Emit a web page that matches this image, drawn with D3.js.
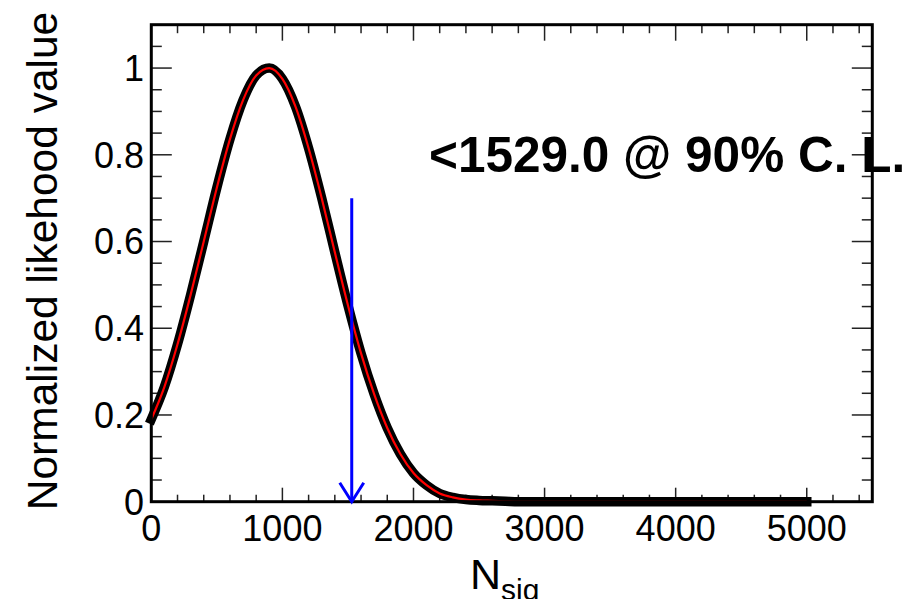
<!DOCTYPE html>
<html>
<head>
<meta charset="utf-8">
<script src="https://cdn.jsdelivr.net/npm/d3@7"></script>
<style>
  body { margin: 0; background: #fff; }
  text { font-family: "Liberation Sans", Arial, Helvetica, sans-serif; }
</style>
</head>
<body>
<div id="chart"></div>
<script>
// likelihood scan
const nsig = [0, 100, 200, 300, 400, 500, 600, 700, 800, 900, 1000, 1100, 1200, 1300, 1400,
    1500, 1600, 1700, 1800, 1900, 2000, 2100, 2200, 2300, 2400, 2500, 2600, 2700, 2800,
    3000, 3500, 4000, 4500, 5000];
const likelihood = [0.190, 0.265, 0.363, 0.477, 0.600, 0.724, 0.836, 0.926, 0.983, 1.000,
    0.975, 0.911, 0.815, 0.700, 0.575, 0.453, 0.342, 0.248, 0.170, 0.110, 0.066, 0.038,
    0.019, 0.010, 0.005, 0.003, 0.002, 0.001, 0, 0, 0, 0, 0, 0];
const xTicks = [0, 1000, 2000, 3000, 4000, 5000];
const yTicks = [0, 0.2, 0.4, 0.6, 0.8, 1];
const limit = 1529.0;
const arrowTop = 0.7;

const width = 916, height = 599;
const frameL = 151.3, frameR = 872.3, frameT = 24.7, frameB = 501.7;

const svg = d3.select("#chart").append("svg")
    .attr("width", width)
    .attr("height", height);

svg.append("rect")
    .attr("width", width)
    .attr("height", height)
    .attr("fill", "#fff");

const x = d3.scaleLinear().domain([0, 5500]).range([frameL, frameR]);
const y = d3.scaleLinear().domain([0, 1.1]).range([frameB, frameT]);

// ticks on all four sides, ROOT style (pointing inwards)
const xMinor = d3.range(0, 5500 + 1, 200);
const yMinor = d3.range(0, 1.1 + 1e-9, 0.05);

const ticks = svg.append("g")
    .attr("stroke", "#222")
    .attr("stroke-width", 1.5);

xMinor.forEach(v => {
    const major = Math.abs(v % 1000) < 1e-6;
    ticks.append("line")
        .attr("x1", x(v)).attr("x2", x(v))
        .attr("y1", frameB).attr("y2", frameB - (major ? 14 : 7));
    ticks.append("line")
        .attr("x1", x(v)).attr("x2", x(v))
        .attr("y1", frameT).attr("y2", frameT + (major ? 16 : 8.5));
});

yMinor.forEach(v => {
    const major = Math.abs(Math.round(v * 100) % 20) === 0;
    ticks.append("line")
        .attr("x1", frameL).attr("x2", frameL + (major ? 20.5 : 10.5))
        .attr("y1", y(v)).attr("y2", y(v));
    ticks.append("line")
        .attr("x1", frameR).attr("x2", frameR - (major ? 20.5 : 10.5))
        .attr("y1", y(v)).attr("y2", y(v));
});

// tick labels
svg.append("g")
    .selectAll("text")
    .data(xTicks)
    .join("text")
    .attr("x", d => x(d))
    .attr("y", 541)
    .attr("text-anchor", "middle")
    .style("font-size", "36px")
    .text(d => d);

svg.append("g")
    .selectAll("text")
    .data(yTicks)
    .join("text")
    .attr("x", 144)
    .attr("y", d => y(d))
    .attr("dy", "0.36em")
    .attr("text-anchor", "end")
    .style("font-size", "36px")
    .text(d => d3.format("~g")(d));

// curve: thick black with a thin red line on top
const line = d3.line()
    .x((d, i) => x(nsig[i]))
    .y(d => y(d))
    .curve(d3.curveMonotoneX);

svg.append("path")
    .datum(likelihood)
    .attr("d", line)
    .attr("fill", "none")
    .attr("stroke", "#000")
    .attr("stroke-width", 9.5)
    .attr("stroke-linejoin", "round")
    .attr("stroke-linecap", "square");

svg.append("path")
    .datum(likelihood)
    .attr("d", line)
    .attr("fill", "none")
    .attr("stroke", "#f00")
    .attr("stroke-width", 2.2);

// frame
svg.append("rect")
    .attr("x", frameL)
    .attr("y", frameT)
    .attr("width", frameR - frameL)
    .attr("height", frameB - frameT)
    .attr("fill", "none")
    .attr("stroke", "#000")
    .attr("stroke-width", 3);

// upper limit arrow
const arrow = svg.append("g")
    .attr("stroke", "#0000ff")
    .attr("stroke-width", 3)
    .attr("fill", "none");

arrow.append("line")
    .attr("x1", x(limit)).attr("x2", x(limit))
    .attr("y1", y(arrowTop)).attr("y2", y(0));

arrow.append("polyline")
    .attr("points", [[x(limit) - 12, y(0) - 19], [x(limit), y(0)], [x(limit) + 12, y(0) - 19]]);

// limit text
svg.append("text")
    .attr("x", 429)
    .attr("y", 172)
    .style("font-size", "49.5px")
    .style("font-weight", "bold")
    .text(`<${limit.toFixed(1)} @ 90% C. L.`);

// axis titles
const xTitle = svg.append("text")
    .attr("x", 470)
    .attr("y", 589)
    .style("font-size", "43px");
xTitle.append("tspan").text("N");
xTitle.append("tspan")
    .attr("dy", 11)
    .style("font-size", "30px")
    .text("sig");

svg.append("text")
    .attr("transform", "translate(57,261) rotate(-90)")
    .attr("text-anchor", "middle")
    .style("font-size", "42.5px")
    .text("Normalized likehood value");
</script>
</body>
</html>
